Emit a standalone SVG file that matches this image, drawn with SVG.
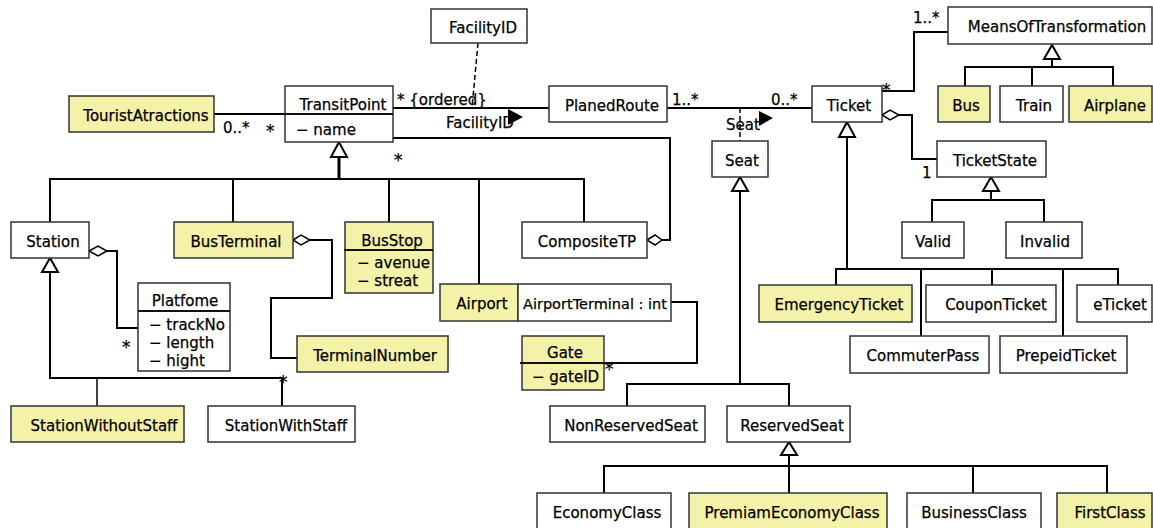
<svg xmlns="http://www.w3.org/2000/svg" width="1153" height="528" viewBox="0 0 1153 528">
<style>
.b{fill:#fff;stroke:#333;stroke-width:1.5}
.y{fill:#f4f1a8;stroke:#333;stroke-width:1.5}
.dv{stroke:#111;stroke-width:2}
text{font-family:"DejaVu Sans","Liberation Sans",sans-serif;font-size:15px;fill:#000;stroke:#000;stroke-width:0.25}
.m{text-anchor:middle}
.s{font-size:17px}
.c line,.c polyline{stroke:#000;stroke-width:2;fill:none}
.c .d{stroke-dasharray:5,3;stroke-width:1.5}
.c .g{fill:#fff;stroke:#000;stroke-width:2}
.c .k{fill:#fff;stroke:#000;stroke-width:1.5}
.c .f{fill:#000;stroke:none}
</style>
<rect width="1153" height="528" fill="#fff"/>
<g class="c" id="connectors">
<line x1="214" y1="114" x2="285" y2="114"/>
<text x="223" y="133">0..*</text><text class="s" x="266" y="137">*</text>
<line x1="393" y1="108" x2="549" y2="108"/>
<line class="d" x1="478" y1="43" x2="472" y2="108"/>
<text x="397" y="105">* {ordered}</text>
<text x="446" y="128">FacilityID</text>
<polygon class="f" points="508,109 508,125 523,117"/>
<line x1="667" y1="108" x2="812" y2="108"/>
<line class="d" x1="740" y1="108" x2="740" y2="141"/>
<text x="672" y="105">1..*</text><text x="771" y="105">0..*</text>
<text x="726" y="130">Seat</text>
<polygon class="f" points="759,111 759,126 773,118"/>
<polyline points="882,91 914,91 914,32 948,32"/>
<text class="s" x="882" y="96">*</text><text x="913" y="23">1..*</text>
<polyline points="965,86 965,67 1113,67 1113,86"/>
<line x1="1032" y1="67" x2="1032" y2="86"/>
<line x1="1052" y1="59" x2="1052" y2="67"/>
<polygon class="g" points="1052,45 1044,59 1060,59"/>
<polyline points="899,115 912,115 912,159 937,159"/>
<polygon class="k" points="882,115 890,110 899,115 890,120"/>
<text x="922" y="178">1</text>
<polyline points="932,222 932,200 1044,200 1044,222"/>
<line x1="991" y1="191" x2="991" y2="200"/>
<polygon class="g" points="991,177 983,191 999,191"/>
<line x1="847" y1="137" x2="847" y2="269"/>
<polyline points="836,285 836,269 1118,269 1118,285"/>
<line x1="921" y1="269" x2="921" y2="336"/>
<line x1="992" y1="269" x2="992" y2="285"/>
<line x1="1063" y1="269" x2="1063" y2="336"/>
<polygon class="g" points="847,122 839,137 855,137"/>
<line x1="740" y1="191" x2="740" y2="384"/>
<polyline points="627,406 627,384 789,384 789,406"/>
<polygon class="g" points="740,177 732,191 748,191"/>
<line x1="789" y1="455" x2="789" y2="493"/>
<polyline points="604,493 604,466 1107,466 1107,493"/>
<line x1="973" y1="466" x2="973" y2="493"/>
<polygon class="g" points="789,442 781,455 797,455"/>
<line x1="339" y1="157" x2="339" y2="179" style="stroke-width:3"/>
<polyline points="50,222 50,179 584,179 584,222"/>
<line x1="233" y1="179" x2="233" y2="222"/>
<line x1="389" y1="179" x2="389" y2="222"/>
<line x1="479" y1="179" x2="479" y2="284"/>
<polygon class="g" points="339,142 331,157 347,157"/>
<polyline points="393,138 670,138 670,240 662,240"/>
<polygon class="k" points="647,240 655,235 662,240 655,245"/>
<text class="s" x="394" y="166">*</text>
<polyline points="107,251 117,251 117,328 138,328"/>
<polygon class="k" points="89,251 98,246 107,251 98,256"/>
<text class="s" x="122" y="353">*</text>
<polyline points="310,240 332,240 332,298 271,298 271,358 297,358"/>
<polygon class="k" points="293,240 301,235 310,240 301,245"/>
<polyline points="50,272 50,378 282,378 282,406"/>
<line x1="97" y1="378" x2="97" y2="406" style="stroke-width:1.5"/>
<polygon class="g" points="50,258 42,272 58,272"/>
<text class="s" x="279" y="388">*</text>
<polyline points="671,302 697,302 697,363 604,363"/>
<text class="s" x="605" y="375">*</text>
</g>
<g id="TouristAtractions"><rect class="y" x="69" y="96" width="145" height="36"/><text class="m" x="146" y="121">TouristAtractions</text></g>
<g id="TransitPoint"><rect class="b" x="285" y="86" width="108" height="56"/><line class="dv" x1="285" y1="114" x2="393" y2="114"/><text class="m" x="343" y="110">TransitPoint</text><text x="296" y="135">− name</text></g>
<g id="FacilityID"><rect class="b" x="431" y="9" width="96" height="34"/><text class="m" x="483" y="33">FacilityID</text></g>
<g id="PlanedRoute"><rect class="b" x="549" y="86" width="118" height="36"/><text class="m" x="612" y="111">PlanedRoute</text></g>
<g id="Ticket"><rect class="b" x="812" y="86" width="70" height="36"/><text class="m" x="849" y="111">Ticket</text></g>
<g id="MeansOfTransformation"><rect class="b" x="948" y="7" width="204" height="37"/><text class="m" x="1057" y="32">MeansOfTransformation</text></g>
<g id="Bus"><rect class="y" x="938" y="86" width="52" height="36"/><text class="m" x="966" y="111">Bus</text></g>
<g id="Train"><rect class="b" x="1000" y="86" width="63" height="36"/><text class="m" x="1034" y="111">Train</text></g>
<g id="Airplane"><rect class="y" x="1069" y="86" width="83" height="36"/><text class="m" x="1115" y="111">Airplane</text></g>
<g id="TicketState"><rect class="b" x="937" y="141" width="109" height="36"/><text class="m" x="995" y="166">TicketState</text></g>
<g id="Valid"><rect class="b" x="902" y="222" width="62" height="36"/><text class="m" x="933" y="247">Valid</text></g>
<g id="Invalid"><rect class="b" x="1006" y="222" width="76" height="36"/><text class="m" x="1045" y="247">Invalid</text></g>
<g id="EmergencyTicket"><rect class="y" x="759" y="285" width="153" height="37"/><text class="m" x="839" y="310">EmergencyTicket</text></g>
<g id="CouponTicket"><rect class="b" x="926" y="285" width="130" height="37"/><text class="m" x="996" y="310">CouponTicket</text></g>
<g id="eTicket"><rect class="b" x="1077" y="285" width="75" height="37"/><text class="m" x="1120" y="310">eTicket</text></g>
<g id="CommuterPass"><rect class="b" x="850" y="336" width="139" height="37"/><text class="m" x="923" y="361">CommuterPass</text></g>
<g id="PrepeidTicket"><rect class="b" x="1000" y="336" width="127" height="37"/><text class="m" x="1066" y="361">PrepeidTicket</text></g>
<g id="Seat"><rect class="b" x="712" y="141" width="56" height="36"/><text class="m" x="742" y="166">Seat</text></g>
<g id="Station"><rect class="b" x="11" y="222" width="78" height="36"/><text class="m" x="53" y="247">Station</text></g>
<g id="BusTerminal"><rect class="y" x="174" y="222" width="119" height="36"/><text class="m" x="236" y="247">BusTerminal</text></g>
<g id="BusStop"><rect class="y" x="345" y="222" width="88" height="71"/><line class="dv" x1="344" y1="250" x2="433" y2="250"/><text class="m" x="392" y="246">BusStop</text><text x="357" y="268">− avenue</text><text x="357" y="286">− streat</text></g>
<g id="CompositeTP"><rect class="b" x="522" y="222" width="125" height="36"/><text class="m" x="587" y="247">CompositeTP</text></g>
<g id="Platfome"><rect class="b" x="138" y="283" width="92" height="88"/><line class="dv" x1="138" y1="311" x2="230" y2="311"/><text class="m" x="185" y="306">Platfome</text><text x="149" y="330">− trackNo</text><text x="149" y="348">− length</text><text x="149" y="366">− hight</text></g>
<g id="Airport"><rect class="y" x="440" y="284" width="78" height="37"/><rect class="b" x="518" y="284" width="153" height="37"/><text class="m" x="482" y="309">Airport</text><text x="523" y="309" style="font-size:14.5px">AirportTerminal : int</text></g>
<g id="TerminalNumber"><rect class="y" x="297" y="336" width="151" height="36"/><text class="m" x="375" y="361">TerminalNumber</text></g>
<g id="Gate"><rect class="y" x="522" y="336" width="82" height="54"/><line class="dv" x1="520" y1="363" x2="604" y2="363"/><text class="m" x="565" y="358">Gate</text><text x="532" y="382">− gateID</text></g>
<g id="StationWithoutStaff"><rect class="y" x="11" y="406" width="173" height="36"/><text class="m" x="104" y="431">StationWithoutStaff</text></g>
<g id="StationWithStaff"><rect class="b" x="208" y="406" width="147" height="36"/><text class="m" x="286" y="431">StationWithStaff</text></g>
<g id="NonReservedSeat"><rect class="b" x="550" y="406" width="155" height="36"/><text class="m" x="631" y="431">NonReservedSeat</text></g>
<g id="ReservedSeat"><rect class="b" x="727" y="406" width="123" height="36"/><text class="m" x="792" y="431">ReservedSeat</text></g>
<g id="EconomyClass"><rect class="b" x="537" y="493" width="134" height="36"/><text class="m" x="607" y="518">EconomyClass</text></g>
<g id="PremiamEconomyClass"><rect class="y" x="689" y="493" width="198" height="36"/><text class="m" x="792" y="518">PremiamEconomyClass</text></g>
<g id="BusinessClass"><rect class="b" x="907" y="493" width="134" height="36"/><text class="m" x="974" y="518">BusinessClass</text></g>
<g id="FirstClass"><rect class="y" x="1057" y="493" width="95" height="36"/><text class="m" x="1110" y="518">FirstClass</text></g>
</svg>
